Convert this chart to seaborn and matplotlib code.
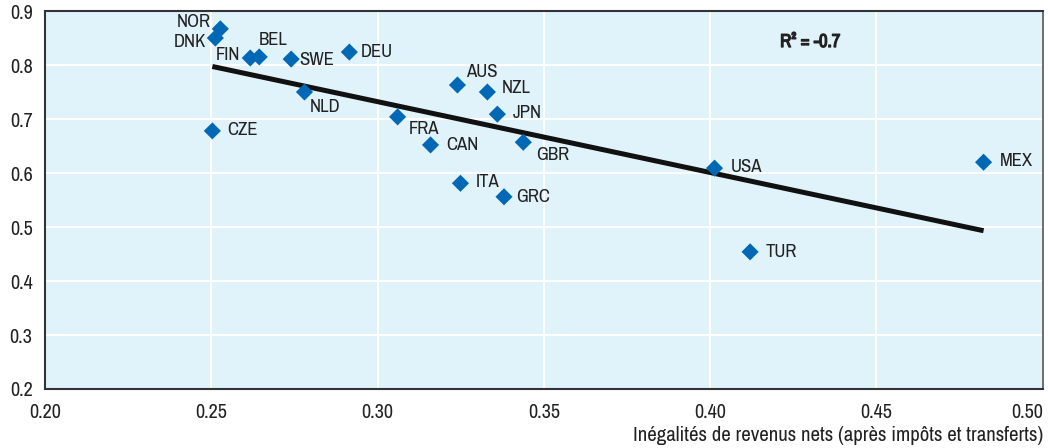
import matplotlib
matplotlib.use("Agg")
import matplotlib.pyplot as plt
import matplotlib.patheffects as pe
import seaborn as sns
import pandas as pd
from matplotlib import font_manager

countries = ["NOR", "DNK", "FIN", "BEL", "SWE", "DEU", "AUS", "NZL", "JPN", "NLD",
             "FRA", "CAN", "GBR", "ITA", "GRC", "CZE", "USA", "TUR", "MEX"]
inequality = [0.2527, 0.2512, 0.2617, 0.2644, 0.2740, 0.2915, 0.3240, 0.3330, 0.3360, 0.2780,
              0.3060, 0.3159, 0.3438, 0.3249, 0.3380, 0.2503, 0.4013, 0.4120, 0.4822]
yvalues = [0.867, 0.850, 0.813, 0.815, 0.811, 0.824, 0.763, 0.750, 0.709, 0.750,
           0.704, 0.652, 0.657, 0.581, 0.556, 0.678, 0.609, 0.454, 0.620]
x_ticks = [0.20, 0.25, 0.30, 0.35, 0.40, 0.45, 0.50]
y_ticks = [0.2, 0.3, 0.4, 0.5, 0.6, 0.7, 0.8, 0.9]
r2_text = "R² = -0.7"
x_title = "Inégalités de revenus nets (après impôts et transferts)"

# label offsets in points (style)
offsets = {
    "NOR": (-7, 5, "right"), "DNK": (-7, -3, "right"), "FIN": (-7, 2, "right"),
    "BEL": (0, 12, "left"), "SWE": (6, -1, "left"), "DEU": (8, 0, "left"),
    "AUS": (6, 9, "left"), "NZL": (10, 3, "left"), "JPN": (11, 1, "left"),
    "NLD": (4, -11, "left"), "FRA": (8, -9, "left"), "CAN": (11, 0, "left"),
    "GBR": (9, -9, "left"), "ITA": (11, 1, "left"), "GRC": (9, 0, "left"),
    "CZE": (11, 1, "left"), "USA": (12, 1, "left"), "TUR": (11, 0, "left"),
    "MEX": (12, 1, "left"),
}

df = pd.DataFrame({"country": countries, "x": inequality, "y": yvalues})

sns.set_theme(style="white")
fl = font_manager.fontManager.ttflist
names = {f.name for f in fl}
narrow = [n for n in names if "Narrow" in n or "Condensed" in n]
stretch = "normal"
if "Liberation Sans Narrow" in names:
    fam = "Liberation Sans Narrow"
elif narrow:
    fam = sorted(narrow)[0]
elif any(f.name == "DejaVu Sans" and "condensed" in str(f.stretch) for f in fl):
    fam = "DejaVu Sans"
    stretch = "condensed"
else:
    fam = "Roboto"
plt.rcParams["font.family"] = [fam, "DejaVu Sans"]
plt.rcParams["font.stretch"] = stretch

TXT = "#222222"
fig = plt.figure(figsize=(10.48, 4.48), dpi=100)
ax = fig.add_axes([0.043, 0.1317, 0.952, 0.8437])
ax.set_facecolor("#E0F2FA")

sns.regplot(data=df, x="x", y="y", ax=ax, ci=None, scatter=False, truncate=True,
            line_kws=dict(color="#111111", lw=3.6, solid_capstyle="butt", zorder=2))
sns.scatterplot(data=df, x="x", y="y", ax=ax, marker="D", s=76, color="#0068B4",
                edgecolor="none", zorder=3)

for c, xv, yv in zip(countries, inequality, yvalues):
    dx, dy, ha = offsets[c]
    ax.annotate(c, (xv, yv), xytext=(dx, dy), textcoords="offset points",
                ha=ha, va="center", fontsize=13.5, color=TXT, zorder=4)

ax.text(0.767, 0.918, r2_text, transform=ax.transAxes, ha="center", va="center",
        fontsize=13.5, fontweight="bold", color=TXT,
        path_effects=[pe.withStroke(linewidth=0.9, foreground=TXT)])

ax.set_xlim(0.20, 0.50)
ax.set_ylim(0.2, 0.9)
ax.set_xticks(x_ticks)
ax.set_xticklabels([f"{v:.2f}" for v in x_ticks])
ax.set_yticks(y_ticks)
ax.set_yticklabels([f"{v:.1f}" for v in y_ticks])
ax.get_xticklabels()[-1].set_horizontalalignment("right")
ax.grid(True, color="white", lw=1.5)
ax.set_axisbelow(True)
ax.tick_params(axis="x", direction="in", length=7, width=1, color="#444444",
               labelsize=14.5, labelcolor=TXT, pad=10)
ax.tick_params(axis="y", direction="in", length=4, width=1.2, color="#444444",
               labelsize=14.5, labelcolor=TXT, pad=9)
for side, sp in ax.spines.items():
    sp.set_visible(True)
    sp.set_color("#333333")
    sp.set_linewidth(1.5)
ax.spines["right"].set_color("#555555")
ax.spines["right"].set_linewidth(1.2)

ax.set_xlabel(x_title, fontsize=15, color=TXT, loc="right", labelpad=3)
ax.set_ylabel("")

fig.savefig("out.png", dpi=100)
